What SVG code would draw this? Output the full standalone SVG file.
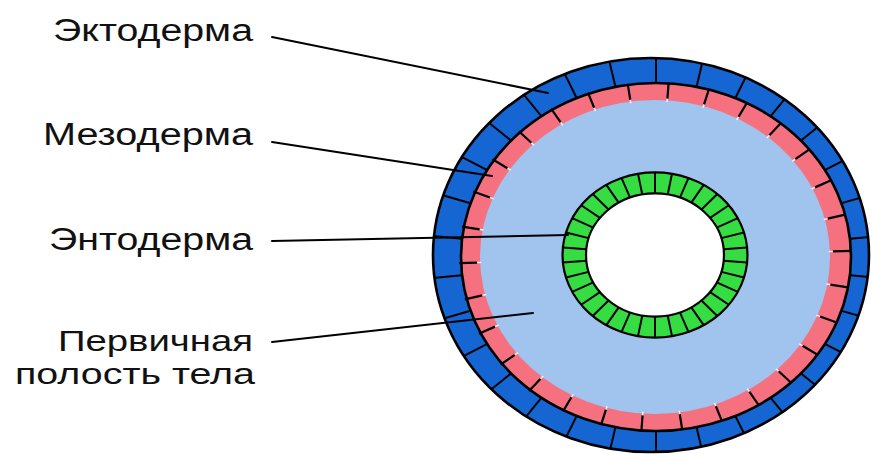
<svg xmlns="http://www.w3.org/2000/svg" xmlns:xlink="http://www.w3.org/1999/xlink" width="872" height="454" viewBox="0 0 872 454">
  <style>
    .label { font-family: "Liberation Sans", Arial, sans-serif; font-size: 31px; fill: #111111; }
    .label.small { font-size: 29px; }
    .leader { stroke: #000; stroke-width: 2; fill: none; stroke-linecap: round; }
    .edge { fill: none; stroke: #000; stroke-width: 2.6; vector-effect: non-scaling-stroke; }
    .div { stroke: #000; stroke-width: 2; vector-effect: non-scaling-stroke; }
    .tick { stroke: #000; stroke-width: 2.2; vector-effect: non-scaling-stroke; }
    .gap { stroke: #f4f4f8; stroke-width: 1.5; vector-effect: non-scaling-stroke; }
    .ecto { fill: #1566d2; }
    .meso { fill: #f6717f; }
    .cavity { fill: #a0c4ee; }
    .endo { fill: #35dc42; stroke: #000; stroke-width: 2.2; vector-effect: non-scaling-stroke; }
    .lumen { fill: #ffffff; stroke: #000; stroke-width: 2.2; vector-effect: non-scaling-stroke; }
  </style>
  <defs>
    <clipPath id="outerClip">
      <ellipse cx="651" cy="255" rx="218" ry="197"/>
    </clipPath>
    <!-- radial spokes, drawn pointing up and rotated into place -->
    <line id="ectoSpoke" class="div" x1="0" y1="-150" x2="0" y2="-260"/>
    <line id="mesoTick" class="tick" x1="0" y1="-178" x2="0" y2="-196"/>
    <line id="mesoGap" class="gap" x1="0" y1="-174" x2="0" y2="-179"/>
    <line id="endoSpoke" class="div" x1="0" y1="-69" x2="0" y2="-92.5"/>
  </defs>

  <rect width="872" height="454" fill="#ffffff"/>

  <!-- ectoderm: outer cell layer -->
  <g id="ectoderm">
    <ellipse class="ecto" cx="651" cy="255" rx="218" ry="197"/>
    <g clip-path="url(#outerClip)">
      <g transform="translate(656 257) scale(1 0.8923)">
        <use xlink:href="#ectoSpoke" transform="rotate(0)"/>
        <use xlink:href="#ectoSpoke" transform="rotate(12)"/>
        <use xlink:href="#ectoSpoke" transform="rotate(24)"/>
        <use xlink:href="#ectoSpoke" transform="rotate(36)"/>
        <use xlink:href="#ectoSpoke" transform="rotate(48)"/>
        <use xlink:href="#ectoSpoke" transform="rotate(60)"/>
        <use xlink:href="#ectoSpoke" transform="rotate(72)"/>
        <use xlink:href="#ectoSpoke" transform="rotate(84)"/>
        <use xlink:href="#ectoSpoke" transform="rotate(96)"/>
        <use xlink:href="#ectoSpoke" transform="rotate(108)"/>
        <use xlink:href="#ectoSpoke" transform="rotate(120)"/>
        <use xlink:href="#ectoSpoke" transform="rotate(132)"/>
        <use xlink:href="#ectoSpoke" transform="rotate(144)"/>
        <use xlink:href="#ectoSpoke" transform="rotate(156)"/>
        <use xlink:href="#ectoSpoke" transform="rotate(168)"/>
        <use xlink:href="#ectoSpoke" transform="rotate(180)"/>
        <use xlink:href="#ectoSpoke" transform="rotate(192)"/>
        <use xlink:href="#ectoSpoke" transform="rotate(204)"/>
        <use xlink:href="#ectoSpoke" transform="rotate(216)"/>
        <use xlink:href="#ectoSpoke" transform="rotate(228)"/>
        <use xlink:href="#ectoSpoke" transform="rotate(240)"/>
        <use xlink:href="#ectoSpoke" transform="rotate(252)"/>
        <use xlink:href="#ectoSpoke" transform="rotate(264)"/>
        <use xlink:href="#ectoSpoke" transform="rotate(276)"/>
        <use xlink:href="#ectoSpoke" transform="rotate(288)"/>
        <use xlink:href="#ectoSpoke" transform="rotate(300)"/>
        <use xlink:href="#ectoSpoke" transform="rotate(312)"/>
        <use xlink:href="#ectoSpoke" transform="rotate(324)"/>
        <use xlink:href="#ectoSpoke" transform="rotate(336)"/>
        <use xlink:href="#ectoSpoke" transform="rotate(348)"/>
      </g>
    </g>
    <ellipse class="edge" cx="651" cy="255" rx="218" ry="197"/>
  </g>

  <!-- mesoderm ring and primary body cavity -->
  <g id="mesoderm">
    <ellipse class="meso" cx="656" cy="257" rx="195" ry="174"/>
    <ellipse id="primary-cavity" class="cavity" cx="655" cy="257" rx="175" ry="157"/>
    <g transform="translate(655 257) scale(1 0.8923)">
      <use xlink:href="#mesoGap" transform="rotate(4)"/>
      <use xlink:href="#mesoGap" transform="rotate(16)"/>
      <use xlink:href="#mesoGap" transform="rotate(28)"/>
      <use xlink:href="#mesoGap" transform="rotate(40)"/>
      <use xlink:href="#mesoGap" transform="rotate(52)"/>
      <use xlink:href="#mesoGap" transform="rotate(64)"/>
      <use xlink:href="#mesoGap" transform="rotate(76)"/>
      <use xlink:href="#mesoGap" transform="rotate(88)"/>
      <use xlink:href="#mesoGap" transform="rotate(100)"/>
      <use xlink:href="#mesoGap" transform="rotate(112)"/>
      <use xlink:href="#mesoGap" transform="rotate(124)"/>
      <use xlink:href="#mesoGap" transform="rotate(136)"/>
      <use xlink:href="#mesoGap" transform="rotate(148)"/>
      <use xlink:href="#mesoGap" transform="rotate(160)"/>
      <use xlink:href="#mesoGap" transform="rotate(172)"/>
      <use xlink:href="#mesoGap" transform="rotate(184)"/>
      <use xlink:href="#mesoGap" transform="rotate(196)"/>
      <use xlink:href="#mesoGap" transform="rotate(208)"/>
      <use xlink:href="#mesoGap" transform="rotate(220)"/>
      <use xlink:href="#mesoGap" transform="rotate(232)"/>
      <use xlink:href="#mesoGap" transform="rotate(244)"/>
      <use xlink:href="#mesoGap" transform="rotate(256)"/>
      <use xlink:href="#mesoGap" transform="rotate(268)"/>
      <use xlink:href="#mesoGap" transform="rotate(280)"/>
      <use xlink:href="#mesoGap" transform="rotate(292)"/>
      <use xlink:href="#mesoGap" transform="rotate(304)"/>
      <use xlink:href="#mesoGap" transform="rotate(316)"/>
      <use xlink:href="#mesoGap" transform="rotate(328)"/>
      <use xlink:href="#mesoGap" transform="rotate(340)"/>
      <use xlink:href="#mesoGap" transform="rotate(352)"/>
      <use xlink:href="#mesoTick" transform="rotate(4)"/>
      <use xlink:href="#mesoTick" transform="rotate(16)"/>
      <use xlink:href="#mesoTick" transform="rotate(28)"/>
      <use xlink:href="#mesoTick" transform="rotate(40)"/>
      <use xlink:href="#mesoTick" transform="rotate(52)"/>
      <use xlink:href="#mesoTick" transform="rotate(64)"/>
      <use xlink:href="#mesoTick" transform="rotate(76)"/>
      <use xlink:href="#mesoTick" transform="rotate(88)"/>
      <use xlink:href="#mesoTick" transform="rotate(100)"/>
      <use xlink:href="#mesoTick" transform="rotate(112)"/>
      <use xlink:href="#mesoTick" transform="rotate(124)"/>
      <use xlink:href="#mesoTick" transform="rotate(136)"/>
      <use xlink:href="#mesoTick" transform="rotate(148)"/>
      <use xlink:href="#mesoTick" transform="rotate(160)"/>
      <use xlink:href="#mesoTick" transform="rotate(172)"/>
      <use xlink:href="#mesoTick" transform="rotate(184)"/>
      <use xlink:href="#mesoTick" transform="rotate(196)"/>
      <use xlink:href="#mesoTick" transform="rotate(208)"/>
      <use xlink:href="#mesoTick" transform="rotate(220)"/>
      <use xlink:href="#mesoTick" transform="rotate(232)"/>
      <use xlink:href="#mesoTick" transform="rotate(244)"/>
      <use xlink:href="#mesoTick" transform="rotate(256)"/>
      <use xlink:href="#mesoTick" transform="rotate(268)"/>
      <use xlink:href="#mesoTick" transform="rotate(280)"/>
      <use xlink:href="#mesoTick" transform="rotate(292)"/>
      <use xlink:href="#mesoTick" transform="rotate(304)"/>
      <use xlink:href="#mesoTick" transform="rotate(316)"/>
      <use xlink:href="#mesoTick" transform="rotate(328)"/>
      <use xlink:href="#mesoTick" transform="rotate(340)"/>
      <use xlink:href="#mesoTick" transform="rotate(352)"/>
    </g>
    <!-- boundary between ectoderm and mesoderm -->
    <ellipse class="edge" cx="656" cy="257" rx="195" ry="174"/>
  </g>

  <!-- endoderm: inner gut tube -->
  <g id="endoderm" transform="translate(655 255) scale(1 0.8923)">
    <circle class="endo" r="92.5"/>
    <circle class="lumen" r="69"/>
    <use xlink:href="#endoSpoke" transform="rotate(0)"/>
    <use xlink:href="#endoSpoke" transform="rotate(10.59)"/>
    <use xlink:href="#endoSpoke" transform="rotate(21.18)"/>
    <use xlink:href="#endoSpoke" transform="rotate(31.76)"/>
    <use xlink:href="#endoSpoke" transform="rotate(42.35)"/>
    <use xlink:href="#endoSpoke" transform="rotate(52.94)"/>
    <use xlink:href="#endoSpoke" transform="rotate(63.53)"/>
    <use xlink:href="#endoSpoke" transform="rotate(74.12)"/>
    <use xlink:href="#endoSpoke" transform="rotate(84.71)"/>
    <use xlink:href="#endoSpoke" transform="rotate(95.29)"/>
    <use xlink:href="#endoSpoke" transform="rotate(105.88)"/>
    <use xlink:href="#endoSpoke" transform="rotate(116.47)"/>
    <use xlink:href="#endoSpoke" transform="rotate(127.06)"/>
    <use xlink:href="#endoSpoke" transform="rotate(137.65)"/>
    <use xlink:href="#endoSpoke" transform="rotate(148.24)"/>
    <use xlink:href="#endoSpoke" transform="rotate(158.82)"/>
    <use xlink:href="#endoSpoke" transform="rotate(169.41)"/>
    <use xlink:href="#endoSpoke" transform="rotate(180)"/>
    <use xlink:href="#endoSpoke" transform="rotate(190.59)"/>
    <use xlink:href="#endoSpoke" transform="rotate(201.18)"/>
    <use xlink:href="#endoSpoke" transform="rotate(211.76)"/>
    <use xlink:href="#endoSpoke" transform="rotate(222.35)"/>
    <use xlink:href="#endoSpoke" transform="rotate(232.94)"/>
    <use xlink:href="#endoSpoke" transform="rotate(243.53)"/>
    <use xlink:href="#endoSpoke" transform="rotate(254.12)"/>
    <use xlink:href="#endoSpoke" transform="rotate(264.71)"/>
    <use xlink:href="#endoSpoke" transform="rotate(275.29)"/>
    <use xlink:href="#endoSpoke" transform="rotate(285.88)"/>
    <use xlink:href="#endoSpoke" transform="rotate(296.47)"/>
    <use xlink:href="#endoSpoke" transform="rotate(307.06)"/>
    <use xlink:href="#endoSpoke" transform="rotate(317.65)"/>
    <use xlink:href="#endoSpoke" transform="rotate(328.24)"/>
    <use xlink:href="#endoSpoke" transform="rotate(338.82)"/>
    <use xlink:href="#endoSpoke" transform="rotate(349.41)"/>
  </g>

  <!-- leader lines -->
  <g id="connectors">
    <line class="leader" x1="272" y1="37" x2="548" y2="93"/>
    <line class="leader" x1="272" y1="142" x2="492" y2="176"/>
    <line class="leader" x1="272" y1="241" x2="568" y2="235"/>
    <line class="leader" x1="272" y1="342" x2="533" y2="313"/>
  </g>

  <!-- labels -->
  <g id="label-ectoderm">
    <text class="label" x="53" y="40.5" textLength="200" lengthAdjust="spacingAndGlyphs">Эктодерма</text>
  </g>
  <g id="label-mesoderm">
    <text class="label" x="43" y="145" textLength="210" lengthAdjust="spacingAndGlyphs">Мезодерма</text>
  </g>
  <g id="label-endoderm">
    <text class="label" x="49" y="250" textLength="204" lengthAdjust="spacingAndGlyphs">Энтодерма</text>
  </g>
  <g id="label-cavity">
    <text class="label small" x="58" y="351" textLength="195" lengthAdjust="spacingAndGlyphs">Первичная</text>
    <text class="label small" x="15" y="383.5" textLength="240" lengthAdjust="spacingAndGlyphs">полость тела</text>
  </g>
</svg>
